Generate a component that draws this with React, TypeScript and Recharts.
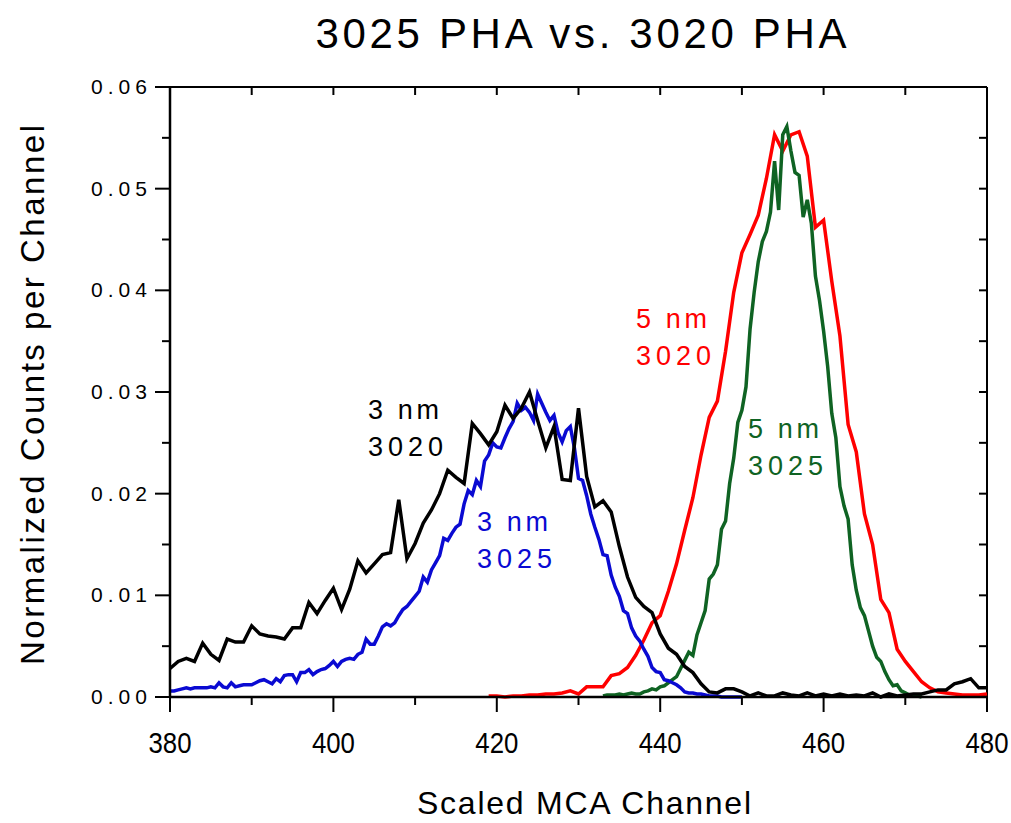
import { LineChart, Line, XAxis, YAxis, ReferenceLine } from 'recharts'

// 3 nm, 3020 detector: one value per channel, 380..480
const black3020Start = 380
const black3020 = [
  0.0028, 0.0035, 0.0038, 0.0035, 0.0053, 0.0042, 0.0036, 0.0057, 0.0054, 0.0054,
  0.0070, 0.0062, 0.0060, 0.0059, 0.0057, 0.0068, 0.0068, 0.0093, 0.0082, 0.0095,
  0.0107, 0.0086, 0.0106, 0.0134, 0.0122, 0.0131, 0.0140, 0.0142, 0.0194, 0.0136,
  0.0151, 0.0171, 0.0184, 0.0200, 0.0223, 0.0216, 0.0210, 0.0269, 0.0259, 0.0248,
  0.0261, 0.0287, 0.0274, 0.0284, 0.0300, 0.0272, 0.0245, 0.0266, 0.0214, 0.0213,
  0.0284, 0.0217, 0.0187, 0.0193, 0.0182, 0.0148, 0.0118, 0.0098, 0.0089, 0.0083,
  0.0062, 0.0048, 0.0042, 0.0030, 0.0024, 0.0013, 0.0005, 0.0004, 0.0008, 0.0008,
  0.0005, 0.0001, 0.0004, 0.0001, 0.0001, 0.0004, 0.0002, 0.0001, 0.0004, 0.0001,
  0.0003, 0.0001, 0.0003, 0.0001, 0.0002, 0.0001, 0.0004, 0.0000, 0.0003, 0.0001,
  0.0002, 0.0003, 0.0003, 0.0005, 0.0007, 0.0007, 0.0013, 0.0015, 0.0018, 0.0009,
  0.0009,
]

// 3 nm, 3025 detector: half-channel steps, 380..450
const blue3025Start = 380
const blue3025 = [
  0.0006, 0.0006, 0.0007, 0.0008, 0.0009, 0.0008, 0.0009, 0.0009, 0.0009, 0.0009,
  0.0010, 0.0009, 0.0014, 0.0010, 0.0009, 0.0014, 0.0010, 0.0011, 0.0012, 0.0012,
  0.0012, 0.0014, 0.0016, 0.0017, 0.0015, 0.0013, 0.0018, 0.0015, 0.0021, 0.0022,
  0.0022, 0.0015, 0.0024, 0.0024, 0.0027, 0.0022, 0.0025, 0.0027, 0.0028, 0.0031,
  0.0035, 0.0030, 0.0035, 0.0037, 0.0038, 0.0037, 0.0042, 0.0044, 0.0057, 0.0052,
  0.0052, 0.0060, 0.0069, 0.0072, 0.0070, 0.0073, 0.0080, 0.0086, 0.0089, 0.0094,
  0.0099, 0.0104, 0.0118, 0.0113, 0.0125, 0.0132, 0.0139, 0.0156, 0.0154, 0.0161,
  0.0167, 0.0170, 0.0190, 0.0203, 0.0199, 0.0213, 0.0207, 0.0232, 0.0238, 0.0250,
  0.0246, 0.0245, 0.0255, 0.0264, 0.0271, 0.0289, 0.0282, 0.0285, 0.0280, 0.0272,
  0.0298, 0.0289, 0.0280, 0.0272, 0.0277, 0.0260, 0.0251, 0.0262, 0.0266, 0.0245,
  0.0215, 0.0213, 0.0198, 0.0180, 0.0167, 0.0155, 0.0140, 0.0139, 0.0120, 0.0108,
  0.0099, 0.0085, 0.0082, 0.0068, 0.0060, 0.0055, 0.0047, 0.0040, 0.0029, 0.0025,
  0.0024, 0.0017, 0.0016, 0.0014, 0.0012, 0.0009, 0.0005, 0.0004, 0.0004, 0.0003,
  0.0003, 0.0002, 0.0001, 0.0001, 0.0001, 0.0000, 0.0000, 0.0000, 0.0000, 0.0000,
  0.0000,
]

// 5 nm, 3020 detector: one value per channel, 419..480
const red3020Start = 419
const red3020 = [
  0.0001, 0.0001, 0.0000, 0.0001, 0.0001, 0.0002, 0.0002, 0.0003, 0.0003, 0.0004,
  0.0006, 0.0003, 0.0010, 0.0010, 0.0010, 0.0021, 0.0023, 0.0029, 0.0041, 0.0056,
  0.0073, 0.0080, 0.0104, 0.0131, 0.0164, 0.0196, 0.0238, 0.0275, 0.0291, 0.0340,
  0.0398, 0.0437, 0.0455, 0.0474, 0.0510, 0.0553, 0.0537, 0.0553, 0.0556, 0.0532,
  0.0462, 0.0469, 0.0409, 0.0355, 0.0268, 0.0241, 0.0180, 0.0150, 0.0096, 0.0083,
  0.0047, 0.0035, 0.0025, 0.0015, 0.0009, 0.0005, 0.0004, 0.0003, 0.0002, 0.0002,
  0.0002, 0.0003,
]

// 5 nm, 3025 detector: half-channel steps, 433..472
const green3025Start = 433
const green3025 = [
  0.0001, 0.0002, 0.0002, 0.0002, 0.0003, 0.0002, 0.0003, 0.0004, 0.0003, 0.0003,
  0.0005, 0.0006, 0.0008, 0.0007, 0.0010, 0.0011, 0.0014, 0.0017, 0.0020, 0.0028,
  0.0036, 0.0044, 0.0041, 0.0061, 0.0073, 0.0085, 0.0116, 0.0121, 0.0130, 0.0165,
  0.0173, 0.0210, 0.0235, 0.0270, 0.0282, 0.0305, 0.0362, 0.0398, 0.0428, 0.0448,
  0.0458, 0.0477, 0.0527, 0.0479, 0.0553, 0.0561, 0.0537, 0.0516, 0.0513, 0.0472,
  0.0489, 0.0466, 0.0414, 0.0390, 0.0360, 0.0325, 0.0279, 0.0255, 0.0207, 0.0188,
  0.0175, 0.0130, 0.0105, 0.0088, 0.0080, 0.0065, 0.0050, 0.0039, 0.0035, 0.0025,
  0.0017, 0.0011, 0.0012, 0.0006, 0.0004, 0.0002, 0.0001, 0.0001, 0.0000,
]

const xTicks = [380, 390, 400, 410, 420, 430, 440, 450, 460, 470, 480]
const yTicks = [0, 0.005, 0.01, 0.015, 0.02, 0.025, 0.03, 0.035, 0.04, 0.045, 0.05, 0.055, 0.06]

const toPoints = (start: number, step: number, values: number[]) =>
  values.map((v, i) => ({ ch: start + i * step, v }))

const blackData = toPoints(black3020Start, 1, black3020)
const blueData = toPoints(blue3025Start, 0.5, blue3025)
const redData = toPoints(red3020Start, 1, red3020)
const greenData = toPoints(green3025Start, 0.5, green3025)

const W = 1011
const H = 823
const PLOT_TOP = 87
const PLOT_RIGHT = 987
const FONT = '"Liberation Sans", Arial, Helvetica, sans-serif'

function XTick({ x, y, payload }: any) {
  const v = payload.value
  const major = (v - 380) % 20 === 0
  return (
    <g>
      <line x1={x} y1={y} x2={x} y2={y + (major ? 15 : 8)} stroke="#000" strokeWidth={2} />
      <line x1={x} y1={PLOT_TOP} x2={x} y2={PLOT_TOP + 8} stroke="#000" strokeWidth={2} />
      {major && (
        <text
          x={x}
          y={y + 56}
          textAnchor="middle"
          fontFamily={FONT}
          fontSize={30}
          textLength={43}
          lengthAdjust="spacingAndGlyphs"
          fill="#000"
        >
          {v}
        </text>
      )}
    </g>
  )
}

function YTick({ x, y, payload }: any) {
  const v = payload.value
  const major = Math.round(v * 1000) % 10 === 0
  return (
    <g>
      <line x1={x} y1={y} x2={x - (major ? 15 : 8)} y2={y} stroke="#000" strokeWidth={2} />
      <line x1={PLOT_RIGHT} y1={y} x2={PLOT_RIGHT - 8} y2={y} stroke="#000" strokeWidth={2} />
      {major && (
        <text
          x={147}
          y={y + 7}
          textAnchor="end"
          fontFamily={FONT}
          fontSize={21}
          textLength={56}
          lengthAdjust="spacing"
          fill="#000"
        >
          {v.toFixed(2)}
        </text>
      )}
    </g>
  )
}

const notes = [
  { lines: ['3 nm', '3020'], x: 368, y: 419, color: '#000000' },
  { lines: ['3 nm', '3025'], x: 477, y: 531, color: '#0a0ad2' },
  { lines: ['5 nm', '3020'], x: 636, y: 328, color: '#ff0000' },
  { lines: ['5 nm', '3025'], x: 748, y: 438, color: '#0f6323' },
]

export default function App() {
  return (
    <div style={{ position: 'absolute', left: 0, top: 0, width: W, height: H, background: '#fff' }}>
      <LineChart width={W} height={H} margin={{ top: PLOT_TOP, right: W - PLOT_RIGHT, bottom: 0, left: 0 }}>
        <XAxis
          type="number"
          dataKey="ch"
          domain={[380, 480]}
          ticks={xTicks}
          interval={0}
          height={126}
          tickSize={0}
          tickMargin={0}
          tickLine={false}
          tick={<XTick />}
          axisLine={{ stroke: '#000', strokeWidth: 2.5 }}
        />
        <YAxis
          type="number"
          domain={[0, 0.06]}
          ticks={yTicks}
          interval={0}
          width={170}
          tickSize={0}
          tickMargin={0}
          tickLine={false}
          tick={<YTick />}
          axisLine={{ stroke: '#000', strokeWidth: 2.5 }}
        />
        <ReferenceLine y={0.06} stroke="#000" strokeWidth={2} />
        <ReferenceLine x={480} stroke="#000" strokeWidth={2} />
        <Line data={redData} dataKey="v" type="linear" stroke="#ff0000" strokeWidth={3.5} dot={false} isAnimationActive={false} />
        <Line data={greenData} dataKey="v" type="linear" stroke="#0f6323" strokeWidth={3.5} dot={false} isAnimationActive={false} />
        <Line data={blueData} dataKey="v" type="linear" stroke="#0a0ad2" strokeWidth={3.5} dot={false} isAnimationActive={false} />
        <Line data={blackData} dataKey="v" type="linear" stroke="#000000" strokeWidth={3.5} dot={false} isAnimationActive={false} />
      </LineChart>
      <svg width={W} height={H} style={{ position: 'absolute', left: 0, top: 0, pointerEvents: 'none' }}>
        <text x={581} y={48} textAnchor="middle" fontFamily={FONT} fontSize={42} textLength={531} lengthAdjust="spacing" fill="#000">
          3025 PHA vs. 3020 PHA
        </text>
        <text x={584} y={814} textAnchor="middle" fontFamily={FONT} fontSize={32} textLength={334} lengthAdjust="spacing" fill="#000">
          Scaled MCA Channel
        </text>
        <text
          transform="translate(44 395) rotate(-90)"
          textAnchor="middle"
          fontFamily={FONT}
          fontSize={33}
          textLength={540}
          lengthAdjust="spacing"
          fill="#000"
        >
          Normalized Counts per Channel
        </text>
        {notes.map((n) =>
          n.lines.map((t, i) => (
            <text
              key={n.color + i}
              x={n.x}
              y={n.y + i * 37}
              fontFamily={FONT}
              fontSize={27}
              textLength={i === 0 ? 71 : 75}
              lengthAdjust="spacing"
              fill={n.color}
            >
              {t}
            </text>
          ))
        )}
      </svg>
    </div>
  )
}
